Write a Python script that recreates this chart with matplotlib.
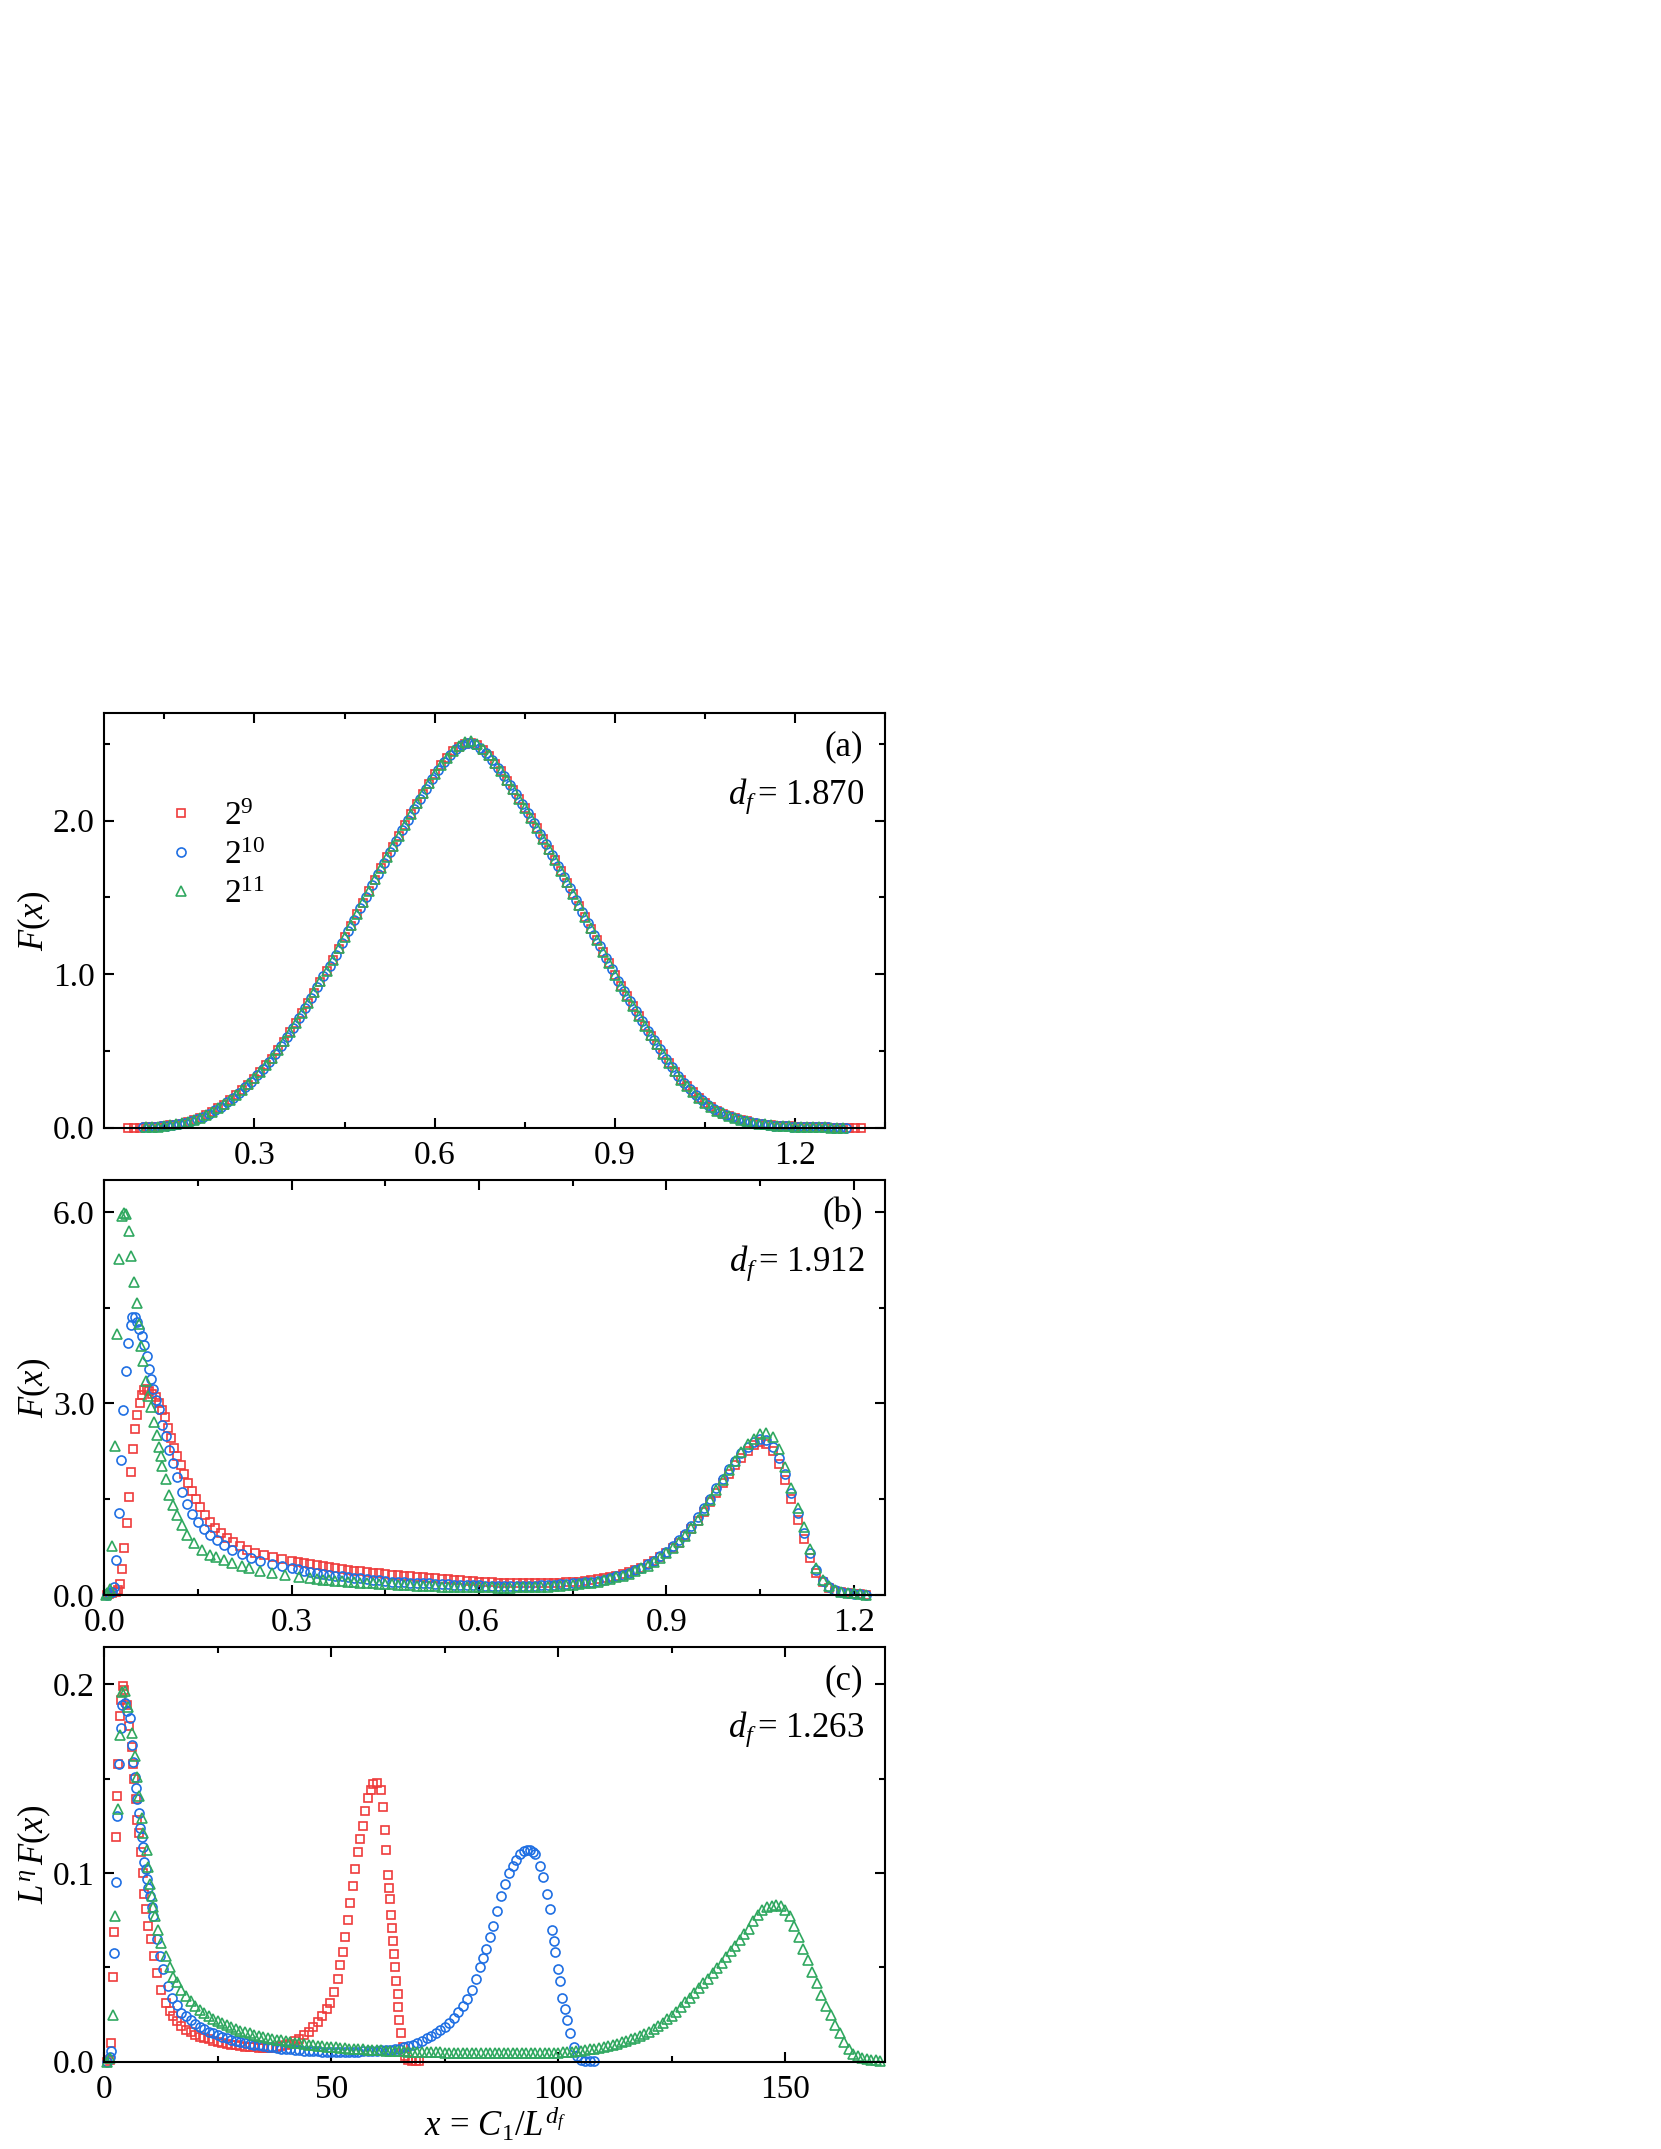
import matplotlib
matplotlib.use("Agg")
import matplotlib.pyplot as plt
from matplotlib.ticker import MultipleLocator, FormatStrFormatter

plt.rcParams['font.family'] = ['Liberation Serif', 'DejaVu Serif']
plt.rcParams['mathtext.fontset'] = 'custom'
plt.rcParams['mathtext.rm'] = 'Liberation Serif'
plt.rcParams['mathtext.it'] = 'Liberation Serif:italic'
plt.rcParams['mathtext.bf'] = 'Liberation Serif:bold'

# ---------------- data ----------------
sizes = [r'$2^{9}$', r'$2^{10}$', r'$2^{11}$']
panel_labels = ['(a)', '(b)', '(c)']
df_values = ['1.870', '1.912', '1.263']

# panel (a)
a_x_red = [0.09, 0.10, 0.11, 0.12, 0.13, 0.14, 0.15, 0.16, 0.17, 0.18, 0.19, 0.20, 0.21, 0.22, 0.23, 0.24,
           0.25, 0.26, 0.27, 0.28, 0.29, 0.30, 0.31, 0.32, 0.33, 0.34, 0.35, 0.36, 0.37, 0.38, 0.39, 0.40,
           0.41, 0.42, 0.43, 0.44, 0.45, 0.46, 0.47, 0.48, 0.49, 0.50, 0.51, 0.52, 0.53, 0.54, 0.55, 0.56,
           0.57, 0.58, 0.59, 0.60, 0.61, 0.62, 0.63, 0.64, 0.65, 0.66, 0.67, 0.68, 0.69, 0.70, 0.71, 0.72,
           0.73, 0.74, 0.75, 0.76, 0.77, 0.78, 0.79, 0.80, 0.81, 0.82, 0.83, 0.84, 0.85, 0.86, 0.87, 0.88,
           0.89, 0.90, 0.91, 0.92, 0.93, 0.94, 0.95, 0.96, 0.97, 0.98, 0.99, 1.00, 1.01, 1.02, 1.03, 1.04,
           1.05, 1.06, 1.07, 1.08, 1.09, 1.10, 1.11, 1.12, 1.13, 1.14, 1.15, 1.16, 1.17, 1.18, 1.19, 1.20,
           1.21, 1.22, 1.23, 1.24, 1.25, 1.26, 1.27, 1.28, 1.29, 1.30, 1.31]
a_y_red = [0.000, 0.000, 0.001, 0.002, 0.004, 0.007, 0.010, 0.015, 0.020, 0.027, 0.035, 0.047, 0.060, 0.080,
           0.100, 0.125, 0.150, 0.180, 0.210, 0.245, 0.280, 0.320, 0.360, 0.405, 0.450, 0.505, 0.560, 0.620,
           0.680, 0.745, 0.810, 0.880, 0.950, 1.020, 1.090, 1.165, 1.240, 1.315, 1.390, 1.465, 1.540, 1.615,
           1.690, 1.760, 1.830, 1.900, 1.970, 2.040, 2.110, 2.175, 2.240, 2.300, 2.360, 2.405, 2.450, 2.480,
           2.500, 2.505, 2.490, 2.460, 2.420, 2.370, 2.320, 2.260, 2.200, 2.140, 2.080, 2.015, 1.950, 1.880,
           1.810, 1.740, 1.670, 1.595, 1.520, 1.445, 1.370, 1.295, 1.220, 1.145, 1.070, 0.995, 0.920, 0.855,
           0.790, 0.725, 0.660, 0.600, 0.540, 0.480, 0.420, 0.365, 0.310, 0.270, 0.230, 0.195, 0.160, 0.135,
           0.110, 0.092, 0.075, 0.062, 0.050, 0.041, 0.032, 0.026, 0.020, 0.016, 0.012, 0.010, 0.008, 0.006,
           0.005, 0.004, 0.003, 0.002, 0.002, 0.001, 0.001, 0.000, 0.000, 0.000, 0.000]
a_x_blue = [0.115, 0.125, 0.135, 0.145, 0.155, 0.165, 0.175, 0.185, 0.195, 0.205, 0.215, 0.225, 0.235, 0.245,
            0.255, 0.265, 0.275, 0.285, 0.295, 0.305, 0.315, 0.325, 0.335, 0.345, 0.355, 0.365, 0.375, 0.385,
            0.395, 0.405, 0.415, 0.425, 0.435, 0.445, 0.455, 0.465, 0.475, 0.485, 0.495, 0.505, 0.515, 0.525,
            0.535, 0.545, 0.555, 0.565, 0.575, 0.585, 0.595, 0.605, 0.615, 0.625, 0.635, 0.645, 0.655, 0.665,
            0.675, 0.685, 0.695, 0.705, 0.715, 0.725, 0.735, 0.745, 0.755, 0.765, 0.775, 0.785, 0.795, 0.805,
            0.815, 0.825, 0.835, 0.845, 0.855, 0.865, 0.875, 0.885, 0.895, 0.905, 0.915, 0.925, 0.935, 0.945,
            0.955, 0.965, 0.975, 0.985, 0.995, 1.005, 1.015, 1.025, 1.035, 1.045, 1.055, 1.065, 1.075, 1.085,
            1.095, 1.105, 1.115, 1.125, 1.135, 1.145, 1.155, 1.165, 1.175, 1.185, 1.195, 1.205, 1.215, 1.225,
            1.235, 1.245, 1.255, 1.265, 1.275, 1.285]
a_y_blue = [0.0015, 0.003, 0.0055, 0.0085, 0.0125, 0.0175, 0.0235, 0.031, 0.041, 0.0535, 0.070, 0.090, 0.1125,
            0.1375, 0.165, 0.195, 0.2275, 0.2625, 0.300, 0.340, 0.3825, 0.4275, 0.4775, 0.5325, 0.590, 0.650,
            0.7125, 0.7775, 0.845, 0.915, 0.985, 1.055, 1.1275, 1.2025, 1.2775, 1.3525, 1.4275, 1.5025, 1.5775,
            1.6525, 1.725, 1.795, 1.865, 1.935, 2.005, 2.075, 2.1425, 2.2075, 2.270, 2.330, 2.3825, 2.4275,
            2.465, 2.490, 2.5025, 2.4975, 2.475, 2.440, 2.395, 2.345, 2.290, 2.230, 2.170, 2.110, 2.0475,
            1.9825, 1.915, 1.845, 1.775, 1.705, 1.6325, 1.5575, 1.4825, 1.4075, 1.3325, 1.2575, 1.1825, 1.1075,
            1.0325, 0.9575, 0.8875, 0.8225, 0.7575, 0.6925, 0.630, 0.570, 0.510, 0.450, 0.3925, 0.3375, 0.290,
            0.250, 0.2125, 0.1775, 0.1475, 0.1225, 0.101, 0.0835, 0.0685, 0.056, 0.0455, 0.0365, 0.029, 0.023,
            0.018, 0.014, 0.011, 0.009, 0.007, 0.0055, 0.0045, 0.0035, 0.0025, 0.002, 0.0015, 0.001, 0.0005,
            0.000]
a_x_green = [0.12, 0.13, 0.14, 0.15, 0.16, 0.17, 0.18, 0.19, 0.20, 0.21, 0.22, 0.23, 0.24, 0.25, 0.26, 0.27,
             0.28, 0.29, 0.30, 0.31, 0.32, 0.33, 0.34, 0.35, 0.36, 0.37, 0.38, 0.39, 0.40, 0.41, 0.42, 0.43,
             0.44, 0.45, 0.46, 0.47, 0.48, 0.49, 0.50, 0.51, 0.52, 0.53, 0.54, 0.55, 0.56, 0.57, 0.58, 0.59,
             0.60, 0.61, 0.62, 0.63, 0.64, 0.65, 0.66, 0.67, 0.68, 0.69, 0.70, 0.71, 0.72, 0.73, 0.74, 0.75,
             0.76, 0.77, 0.78, 0.79, 0.80, 0.81, 0.82, 0.83, 0.84, 0.85, 0.86, 0.87, 0.88, 0.89, 0.90, 0.91,
             0.92, 0.93, 0.94, 0.95, 0.96, 0.97, 0.98, 0.99, 1.00, 1.01, 1.02, 1.03, 1.04, 1.05, 1.06, 1.07,
             1.08, 1.09, 1.10, 1.11, 1.12, 1.13, 1.14, 1.15, 1.16, 1.17, 1.18, 1.19, 1.20, 1.21, 1.22, 1.23,
             1.24, 1.25, 1.26, 1.27, 1.28]
a_y_green = [0.002, 0.004, 0.007, 0.011, 0.016, 0.021, 0.028, 0.036, 0.048, 0.061, 0.081, 0.101, 0.126, 0.151,
             0.181, 0.212, 0.246, 0.282, 0.322, 0.362, 0.407, 0.452, 0.507, 0.562, 0.622, 0.682, 0.747, 0.812,
             0.882, 0.952, 1.022, 1.092, 1.167, 1.242, 1.317, 1.392, 1.467, 1.542, 1.617, 1.692, 1.762, 1.832,
             1.902, 1.972, 2.042, 2.112, 2.177, 2.242, 2.302, 2.362, 2.410, 2.455, 2.488, 2.510, 2.515, 2.498,
             2.465, 2.425, 2.375, 2.322, 2.262, 2.202, 2.142, 2.082, 2.017, 1.952, 1.882, 1.812, 1.742, 1.672,
             1.597, 1.522, 1.447, 1.372, 1.297, 1.222, 1.147, 1.072, 0.997, 0.922, 0.857, 0.792, 0.727, 0.662,
             0.602, 0.542, 0.482, 0.422, 0.367, 0.312, 0.271, 0.231, 0.196, 0.161, 0.136, 0.111, 0.093, 0.076,
             0.063, 0.051, 0.042, 0.033, 0.027, 0.021, 0.017, 0.013, 0.011, 0.009, 0.007, 0.006, 0.005, 0.004,
             0.003, 0.002, 0.001, 0.001, 0.000]

# panel (b)
b_x_red = [0.004, 0.008, 0.013, 0.018, 0.022, 0.025, 0.028, 0.032, 0.036, 0.039, 0.043, 0.046, 0.049, 0.053,
           0.057, 0.060, 0.064, 0.068, 0.072, 0.077, 0.082, 0.087, 0.092, 0.097, 0.102, 0.107, 0.112, 0.117,
           0.122, 0.128, 0.134, 0.140, 0.147, 0.154, 0.162, 0.170, 0.178, 0.187, 0.196, 0.206, 0.217, 0.229,
           0.242, 0.256, 0.270, 0.285, 0.300,
           0.31, 0.32, 0.33, 0.34, 0.35, 0.36, 0.37, 0.38, 0.39, 0.40, 0.41, 0.42, 0.43, 0.44, 0.45, 0.46,
           0.47, 0.48, 0.49, 0.50, 0.51, 0.52, 0.53, 0.54, 0.55, 0.56, 0.57, 0.58, 0.59, 0.60, 0.61, 0.62,
           0.63, 0.64, 0.65, 0.66, 0.67, 0.68, 0.69, 0.70, 0.71, 0.72, 0.73, 0.74, 0.75, 0.76, 0.77, 0.78,
           0.79, 0.80, 0.81, 0.82, 0.83, 0.84, 0.85, 0.86, 0.87, 0.88, 0.89, 0.90, 0.91, 0.92, 0.93, 0.94,
           0.95, 0.96, 0.97, 0.98, 0.99, 1.00, 1.01, 1.02, 1.03, 1.04, 1.05, 1.06, 1.07, 1.08, 1.09, 1.10,
           1.11, 1.12, 1.13, 1.14, 1.15, 1.16, 1.17, 1.18, 1.19, 1.20, 1.21, 1.22]
b_y_red = [0.00, 0.02, 0.03, 0.04, 0.08, 0.17, 0.41, 0.73, 1.13, 1.54, 1.93, 2.29, 2.60, 2.82, 3.00, 3.13,
           3.21, 3.22, 3.20, 3.15, 3.10, 3.01, 2.89, 2.78, 2.62, 2.46, 2.30, 2.17, 2.03, 1.89, 1.76, 1.63,
           1.50, 1.38, 1.25, 1.14, 1.05, 0.97, 0.90, 0.83, 0.76, 0.71, 0.66, 0.62, 0.59, 0.56, 0.53,
           0.515, 0.50, 0.485, 0.47, 0.455, 0.44, 0.425, 0.41, 0.395, 0.38, 0.37, 0.36, 0.35, 0.34, 0.33, 0.32,
           0.31, 0.30, 0.29, 0.28, 0.275, 0.27, 0.26, 0.25, 0.245, 0.24, 0.23, 0.22, 0.215, 0.21, 0.205, 0.20,
           0.195, 0.19, 0.185, 0.18, 0.18, 0.18, 0.18, 0.18, 0.185, 0.19, 0.195, 0.20, 0.205, 0.21, 0.22, 0.23,
           0.245, 0.26, 0.28, 0.30, 0.33, 0.36, 0.395, 0.43, 0.48, 0.53, 0.59, 0.66, 0.74, 0.82, 0.92, 1.03,
           1.16, 1.30, 1.45, 1.60, 1.75, 1.90, 2.03, 2.15, 2.26, 2.35, 2.40, 2.36, 2.25, 2.05, 1.80, 1.50,
           1.18, 0.88, 0.58, 0.34, 0.20, 0.11, 0.07, 0.045, 0.03, 0.02, 0.01, 0.00]
b_x_blue = [0.004, 0.008, 0.012, 0.016, 0.019, 0.023, 0.026, 0.030, 0.035, 0.038, 0.042, 0.045, 0.049, 0.053,
            0.056, 0.060, 0.064, 0.068, 0.071, 0.075, 0.078, 0.083, 0.088, 0.093, 0.099, 0.104, 0.110, 0.117,
            0.125, 0.133, 0.141, 0.150, 0.160, 0.170, 0.180, 0.192, 0.205, 0.220, 0.235, 0.250, 0.268, 0.285,
            0.300,
            0.31, 0.32, 0.33, 0.34, 0.35, 0.36, 0.37, 0.38, 0.39, 0.40, 0.41, 0.42, 0.43, 0.44, 0.45, 0.46,
            0.47, 0.48, 0.49, 0.50, 0.51, 0.52, 0.53, 0.54, 0.55, 0.56, 0.57, 0.58, 0.59, 0.60, 0.61, 0.62,
            0.63, 0.64, 0.65, 0.66, 0.67, 0.68, 0.69, 0.70, 0.71, 0.72, 0.73, 0.74, 0.75, 0.76, 0.77, 0.78,
            0.79, 0.80, 0.81, 0.82, 0.83, 0.84, 0.85, 0.86, 0.87, 0.88, 0.89, 0.90, 0.91, 0.92, 0.93, 0.94,
            0.95, 0.96, 0.97, 0.98, 0.99, 1.00, 1.01, 1.02, 1.03, 1.04, 1.05, 1.06, 1.07, 1.08, 1.09, 1.10,
            1.11, 1.12, 1.13, 1.14, 1.15, 1.16, 1.17, 1.18, 1.19, 1.20, 1.21, 1.22]
b_y_blue = [0.00, 0.03, 0.05, 0.13, 0.55, 1.29, 2.11, 2.90, 3.51, 3.94, 4.23, 4.36, 4.36, 4.28, 4.17, 4.06,
            3.91, 3.75, 3.54, 3.39, 3.22, 3.05, 2.91, 2.66, 2.49, 2.27, 2.06, 1.85, 1.62, 1.43, 1.27, 1.14,
            1.03, 0.94, 0.86, 0.78, 0.71, 0.64, 0.58, 0.53, 0.48, 0.45, 0.42,
            0.40, 0.38, 0.365, 0.35, 0.335, 0.32, 0.305, 0.29, 0.28, 0.27, 0.26, 0.25, 0.24, 0.23, 0.22, 0.21,
            0.205, 0.20, 0.195, 0.19, 0.185, 0.18, 0.175, 0.17, 0.165, 0.16, 0.158, 0.155, 0.152, 0.15, 0.148,
            0.145, 0.142, 0.14, 0.14, 0.14, 0.14, 0.14, 0.145, 0.15, 0.155, 0.16, 0.165, 0.17, 0.18, 0.19, 0.20,
            0.21, 0.225, 0.24, 0.265, 0.29, 0.32, 0.35, 0.39, 0.43, 0.48, 0.54, 0.61, 0.68, 0.77, 0.86, 0.96,
            1.08, 1.22, 1.36, 1.51, 1.67, 1.82, 1.97, 2.10, 2.22, 2.32, 2.40, 2.45, 2.42, 2.32, 2.14, 1.90,
            1.60, 1.28, 0.97, 0.66, 0.39, 0.22, 0.12, 0.075, 0.05, 0.035, 0.022, 0.012, 0.00]
b_x_green = [0.003, 0.005, 0.009, 0.012, 0.017, 0.021, 0.024, 0.028, 0.031, 0.035, 0.039, 0.043, 0.048, 0.052,
             0.055, 0.058, 0.062, 0.067, 0.070, 0.075, 0.079, 0.084, 0.087, 0.090, 0.093, 0.099, 0.104, 0.110,
             0.117, 0.124, 0.133, 0.144, 0.157, 0.170, 0.179, 0.192, 0.205, 0.220, 0.232, 0.250, 0.269, 0.290,
             0.312,
             0.33, 0.34, 0.35, 0.36, 0.37, 0.38, 0.39, 0.40, 0.41, 0.42, 0.43, 0.44, 0.45, 0.46, 0.47, 0.48,
             0.49, 0.50, 0.51, 0.52, 0.53, 0.54, 0.55, 0.56, 0.57, 0.58, 0.59, 0.60, 0.61, 0.62, 0.63, 0.64,
             0.65, 0.66, 0.67, 0.68, 0.69, 0.70, 0.71, 0.72, 0.73, 0.74, 0.75, 0.76, 0.77, 0.78, 0.79, 0.80,
             0.81, 0.82, 0.83, 0.84, 0.85, 0.86, 0.87, 0.88, 0.89, 0.90, 0.91, 0.92, 0.93, 0.94, 0.95, 0.96,
             0.97, 0.98, 0.99, 1.00, 1.01, 1.02, 1.03, 1.04, 1.05, 1.06, 1.07, 1.08, 1.09, 1.10, 1.11, 1.12,
             1.13, 1.14, 1.15, 1.16, 1.17, 1.18, 1.19, 1.20, 1.21, 1.22]
b_y_green = [0.00, 0.03, 0.10, 0.76, 2.33, 4.08, 5.27, 5.93, 5.98, 5.96, 5.70, 5.31, 4.91, 4.58, 4.25, 3.90,
             3.67, 3.35, 3.11, 2.94, 2.71, 2.50, 2.32, 2.17, 2.02, 1.81, 1.57, 1.41, 1.25, 1.10, 0.94, 0.81,
             0.70, 0.63, 0.60, 0.55, 0.50, 0.46, 0.42, 0.38, 0.34, 0.31, 0.28,
             0.26, 0.25, 0.24, 0.23, 0.22, 0.215, 0.21, 0.20, 0.19, 0.185, 0.18, 0.175, 0.17, 0.165, 0.16, 0.155,
             0.15, 0.145, 0.14, 0.138, 0.135, 0.132, 0.13, 0.128, 0.125, 0.122, 0.12, 0.12, 0.12, 0.118, 0.115,
             0.115, 0.115, 0.118, 0.12, 0.12, 0.12, 0.125, 0.13, 0.135, 0.14, 0.15, 0.16, 0.17, 0.18, 0.195,
             0.21, 0.23, 0.25, 0.275, 0.30, 0.335, 0.37, 0.415, 0.46, 0.52, 0.58, 0.65, 0.73, 0.83, 0.93, 1.05,
             1.18, 1.33, 1.48, 1.64, 1.80, 1.95, 2.10, 2.24, 2.36, 2.45, 2.52, 2.54, 2.48, 2.28, 2.00, 1.68,
             1.36, 1.06, 0.72, 0.42, 0.24, 0.14, 0.08, 0.05, 0.035, 0.026, 0.015, 0.005]

# panel (c)
c_x_red = [0.5, 1.2, 1.5, 2.0, 2.2, 2.55, 2.9, 3.1, 3.35, 3.65, 4.1, 4.4, 4.95, 5.5, 6.05, 6.4, 6.65, 7.0,
           7.3, 7.6, 8.0, 8.45, 8.75, 9.2, 9.7, 10.2, 10.9, 11.7, 12.6, 13.7, 14.5, 15.2, 16.0, 17.0, 18.0,
           19.0, 20.0, 21.0, 22.0, 23.0, 24.0, 25.0, 26.0, 27.0, 28.0, 29.0, 30.0, 31.0, 32.0, 33.0, 34.0,
           35.0, 36.0, 37.0, 38.0, 39.0, 40.0, 41.0, 42.0, 43.0, 44.0, 45.0, 46.0, 47.0, 48.0, 49.0, 49.7,
           50.5, 51.4, 52.0, 52.5, 53.0, 53.6, 54.2, 54.8, 55.3, 55.9, 56.4, 57.0, 57.5, 58.1, 58.7, 59.3,
           60.1, 61.0, 61.5, 61.9, 62.1, 62.5, 62.8, 63.0, 63.2, 63.4, 63.7, 63.9, 64.1, 64.3, 64.6, 64.8,
           65.0, 65.3, 65.7, 66.3, 67.0, 67.8, 68.6, 69.4]
c_y_red = [0.000, 0.001, 0.010, 0.045, 0.069, 0.119, 0.141, 0.158, 0.183, 0.192, 0.199, 0.197, 0.189, 0.178,
           0.167, 0.158, 0.150, 0.139, 0.128, 0.121, 0.111, 0.100, 0.089, 0.081, 0.072, 0.065, 0.056, 0.047,
           0.038, 0.031, 0.027, 0.024, 0.0215, 0.019, 0.017, 0.0155, 0.0142, 0.0133, 0.0125, 0.0118, 0.0112,
           0.0106, 0.0100, 0.0095, 0.0090, 0.0086, 0.0083, 0.0080, 0.0078, 0.0076, 0.0075, 0.0074, 0.0074,
           0.0075, 0.0078, 0.0082, 0.0088, 0.0096, 0.0108, 0.0122, 0.0140, 0.0160, 0.0182, 0.0208, 0.0240,
           0.0280, 0.031, 0.037, 0.044, 0.051, 0.058, 0.066, 0.075, 0.084, 0.093, 0.102, 0.111, 0.118, 0.125,
           0.133, 0.140, 0.144, 0.147, 0.148, 0.144, 0.135, 0.123, 0.112, 0.099, 0.092, 0.086, 0.078, 0.071,
           0.064, 0.057, 0.050, 0.043, 0.036, 0.029, 0.022, 0.015, 0.008, 0.003, 0.001, 0.0005, 0.0003, 0.0002]
c_x_blue = [0.5, 1.2, 1.5, 2.2, 2.55, 2.8, 3.3, 3.65, 4.0, 4.5, 5.0, 5.55, 6.05, 6.4, 6.8, 7.0, 7.3, 7.65, 7.9,
            8.25, 8.45, 8.8, 9.1, 9.35, 9.7, 10.05, 10.4, 10.8, 11.5, 12.2, 13.0, 14.0, 15.0, 16.0, 17.0, 18.0,
            19.0, 20.0, 21.0, 22.0, 23.0, 24.0, 25.0, 26.0, 27.0, 28.0, 29.0, 30.0, 31.0, 32.0, 33.0, 34.0,
            35.0, 36.0, 37.0, 38.0, 39.0, 40.0, 41.0, 42.0, 43.0, 44.0, 45.0, 46.0, 47.0, 48.0, 49.0, 50.0,
            51.0, 52.0, 53.0, 54.0, 55.0, 56.0, 57.0, 58.0, 59.0, 60.0, 61.0, 62.0, 63.0, 64.0, 65.0, 66.0,
            67.0, 68.0, 69.0, 70.0, 71.0, 72.0, 73.0, 74.0, 75.0, 76.0, 77.0, 78.0, 79.0, 80.0, 81.0, 82.0,
            82.8, 83.5, 84.2, 85.0, 85.7, 86.5, 87.4, 88.2, 89.1, 90.0, 90.8, 91.6, 92.4, 93.1, 93.8, 94.4,
            94.9, 96.0, 96.7, 97.5, 98.1, 98.6, 99.0, 99.4, 99.9, 100.3, 100.9, 101.4, 102.0, 102.6, 103.4,
            104.2, 105.0, 106.0, 107.0, 108.0]
c_y_blue = [0.000, 0.0027, 0.0058, 0.0575, 0.095, 0.130, 0.158, 0.177, 0.189, 0.190, 0.186, 0.182, 0.168,
            0.159, 0.151, 0.145, 0.139, 0.132, 0.124, 0.119, 0.114, 0.106, 0.102, 0.097, 0.092, 0.088, 0.082,
            0.077, 0.065, 0.056, 0.049, 0.040, 0.034, 0.030, 0.026, 0.024, 0.022, 0.0200, 0.0185, 0.0172,
            0.0160, 0.0150, 0.0140, 0.0132, 0.0124, 0.0117, 0.0110, 0.0104, 0.0099, 0.0094, 0.0090, 0.0086,
            0.0082, 0.0079, 0.0076, 0.0073, 0.0070, 0.0068, 0.0066, 0.0063, 0.0061, 0.0059, 0.0058, 0.0056,
            0.0055, 0.0054, 0.0053, 0.0052, 0.0052, 0.0052, 0.0052, 0.0053, 0.0053, 0.0054, 0.0055, 0.0056,
            0.0057, 0.0058, 0.0060, 0.0061, 0.0063, 0.0065, 0.0070, 0.0076, 0.0083, 0.0091, 0.0100, 0.0112,
            0.0125, 0.0138, 0.0150, 0.0166, 0.0185, 0.0205, 0.0232, 0.0262, 0.0295, 0.033, 0.038, 0.044,
            0.050, 0.055, 0.060, 0.066, 0.072, 0.080, 0.088, 0.094, 0.100, 0.104, 0.107, 0.110, 0.1115, 0.112,
            0.112, 0.111, 0.110, 0.1035, 0.098, 0.089, 0.081, 0.070, 0.064, 0.058, 0.049, 0.043, 0.034, 0.028,
            0.022, 0.015, 0.008, 0.003, 0.001, 0.0005, 0.0003, 0.0002]
c_x_green = [0.5, 1.2, 1.9, 2.4, 3.1, 3.35, 3.85, 4.6, 5.3, 6.05, 6.8, 7.15, 7.75, 8.25, 8.6, 9.35, 9.7,
             10.05, 10.4, 10.8, 11.15, 11.9, 12.6, 13.7, 14.5, 15.2, 16, 17, 18, 19, 20, 21, 22, 23, 24, 25,
             26, 27, 28, 29, 30, 31, 32, 33, 34, 35, 36, 37, 38, 39, 40, 41, 42, 43, 44, 45, 46, 47, 48, 49,
             50, 51, 52, 53, 54, 55, 56, 57, 58, 59, 60, 61, 62, 63, 64, 65, 66, 67, 68, 69, 70, 71, 72, 73,
             74, 75, 76, 77, 78, 79, 80, 81, 82, 83, 84, 85, 86, 87, 88, 89, 90, 91, 92, 93, 94, 95, 96, 97,
             98, 99, 100, 101, 102, 103, 104, 105, 106, 107, 108, 109, 110, 111, 112, 113, 114, 115, 116, 117,
             118, 119, 120, 121, 122, 123, 124, 125, 126, 127, 128, 129, 130, 131, 132, 133, 134, 135, 136,
             137, 138, 139, 140, 141, 142, 143, 144, 145, 146, 147, 148, 149, 150, 151, 152, 153, 154, 155,
             156, 157, 158, 159, 160, 161, 162, 163, 164, 165, 166, 167, 168, 169, 170, 171]
c_y_green = [0.000, 0.0018, 0.025, 0.077, 0.134, 0.173, 0.196, 0.1965, 0.188, 0.174, 0.162, 0.151, 0.141,
             0.129, 0.121, 0.112, 0.103, 0.094, 0.088, 0.082, 0.077, 0.070, 0.063, 0.056, 0.050, 0.045, 0.042,
             0.038, 0.035, 0.032, 0.0295, 0.0274, 0.0256, 0.0240, 0.0226, 0.0214, 0.0203, 0.0192, 0.0182,
             0.0173, 0.0165, 0.0157, 0.0150, 0.0144, 0.0138, 0.0132, 0.0127, 0.0122, 0.0117, 0.0113, 0.0108,
             0.0104, 0.0100, 0.0097, 0.0094, 0.0091, 0.0088, 0.0085, 0.0083, 0.0080, 0.0078, 0.0076, 0.0074,
             0.0072, 0.0070, 0.0068, 0.0067, 0.0065, 0.0064, 0.0062, 0.0061, 0.0060, 0.0059, 0.0058, 0.0057,
             0.0056, 0.0055, 0.0054, 0.0053, 0.0052, 0.0051, 0.0050, 0.0050, 0.0049, 0.0049, 0.0048, 0.0048,
             0.0047, 0.0047, 0.0047, 0.0046, 0.0046, 0.0046, 0.0045, 0.0045, 0.0045, 0.0045, 0.0044, 0.0044,
             0.0044, 0.0044, 0.0044, 0.0044, 0.0044, 0.0045, 0.0045, 0.0045, 0.0046, 0.0046, 0.0047, 0.0048,
             0.0050, 0.0052, 0.0054, 0.0056, 0.0059, 0.0062, 0.0066, 0.0070, 0.0074, 0.0079, 0.0084, 0.0090,
             0.0096, 0.0103, 0.0110, 0.0118, 0.0127, 0.0137, 0.0148, 0.0160, 0.0174, 0.0190, 0.0206, 0.0224,
             0.0242, 0.0265, 0.0290, 0.0315, 0.0340, 0.0365, 0.0390, 0.0415, 0.0440, 0.0470, 0.0498, 0.0525,
             0.0555, 0.0585, 0.0615, 0.0645, 0.0675, 0.0705, 0.0745, 0.0780, 0.0805, 0.0820, 0.0828, 0.0832,
             0.0825, 0.0806, 0.0770, 0.0720, 0.0660, 0.0600, 0.0540, 0.0478, 0.0415, 0.0352, 0.0295, 0.0245,
             0.0195, 0.0150, 0.0105, 0.0068, 0.0042, 0.0028, 0.0018, 0.0012, 0.0009, 0.0007, 0.0005]

colors = ['#EF3B3B', '#1F6FE3', '#30A860']
markers = ['s', 'o', '^']
msizes = [6.0, 6.5, 7.5]

# ---------------- figure ----------------
fig = plt.figure(figsize=(16.61, 21.49), dpi=100)
left, width = 0.0628, 0.4700
ax_a = fig.add_axes([left, 0.47525, width, 0.19297])
ax_b = fig.add_axes([left, 0.25780, width, 0.19311])
ax_c = fig.add_axes([left, 0.04062, width, 0.19312])

panels = [
    (ax_a, [(a_x_red, a_y_red), (a_x_blue, a_y_blue), (a_x_green, a_y_green)]),
    (ax_b, [(b_x_red, b_y_red), (b_x_blue, b_y_blue), (b_x_green, b_y_green)]),
    (ax_c, [(c_x_red, c_y_red), (c_x_blue, c_y_blue), (c_x_green, c_y_green)]),
]

FS_TICK = 24
FS_TEXT = 25
for i, (ax, series) in enumerate(panels):
    for j, (xs, ys) in enumerate(series):
        ax.plot(xs, ys, linestyle='none', marker=markers[j], markersize=msizes[j],
                markerfacecolor='none', markeredgecolor=colors[j], markeredgewidth=1.2,
                label=sizes[j], clip_on=False)
    for sp in ax.spines.values():
        sp.set_linewidth(1.5)
        sp.set_zorder(5)
    ax.tick_params(which='both', direction='in', top=True, right=True, labelsize=FS_TICK, width=1.5)
    ax.tick_params(which='major', length=7)
    ax.tick_params(which='minor', length=4.5)
    ax.tick_params(axis='x', pad=9)
    ax.tick_params(axis='y', pad=7)
    ax.text(0.972, 0.918, panel_labels[i], transform=ax.transAxes, ha='right', va='center',
            fontsize=FS_TEXT)
    ax.text(0.974, 0.800, r'$d_{f}\,$' + '= ' + df_values[i], transform=ax.transAxes, ha='right',
            va='center', fontsize=FS_TEXT)

# axis ranges and ticks
ax_a.set_xlim(0.05, 1.35)
ax_a.set_ylim(0, 2.7)
ax_a.xaxis.set_major_locator(MultipleLocator(0.3))
ax_a.xaxis.set_minor_locator(MultipleLocator(0.15))
ax_a.yaxis.set_major_locator(MultipleLocator(1.0))
ax_a.yaxis.set_minor_locator(MultipleLocator(0.5))
ax_a.xaxis.set_major_formatter(FormatStrFormatter('%.1f'))
ax_a.yaxis.set_major_formatter(FormatStrFormatter('%.1f'))

ax_b.set_xlim(0, 1.25)
ax_b.set_ylim(0, 6.5)
ax_b.xaxis.set_major_locator(MultipleLocator(0.3))
ax_b.xaxis.set_minor_locator(MultipleLocator(0.15))
ax_b.yaxis.set_major_locator(MultipleLocator(3.0))
ax_b.yaxis.set_minor_locator(MultipleLocator(1.5))
ax_b.xaxis.set_major_formatter(FormatStrFormatter('%.1f'))
ax_b.yaxis.set_major_formatter(FormatStrFormatter('%.1f'))

ax_c.set_xlim(0, 172)
ax_c.set_ylim(0, 0.22)
ax_c.xaxis.set_major_locator(MultipleLocator(50))
ax_c.xaxis.set_minor_locator(MultipleLocator(25))
ax_c.yaxis.set_major_locator(MultipleLocator(0.1))
ax_c.yaxis.set_minor_locator(MultipleLocator(0.05))
ax_c.xaxis.set_major_formatter(FormatStrFormatter('%d'))
ax_c.yaxis.set_major_formatter(FormatStrFormatter('%.1f'))

ax_a.set_ylabel(r'$F(x)$', fontsize=FS_TEXT)
ax_b.set_ylabel(r'$F(x)$', fontsize=FS_TEXT)
ax_c.set_ylabel(r'$L^{\eta}\,F(x)$', fontsize=FS_TEXT)
for ax in (ax_a, ax_b, ax_c):
    ax.yaxis.set_label_coords(-0.066, 0.5)
ax_c.set_xlabel(r'$x\,=\,C_1/L^{d_f}$', fontsize=FS_TEXT, labelpad=0)

leg = ax_a.legend(loc='upper left', bbox_to_anchor=(0.077, 0.788), frameon=False, fontsize=24,
                  handletextpad=0.8, labelspacing=0.26, handlelength=1.0, borderaxespad=0, borderpad=0)

fig.savefig('out.png', dpi=100)
